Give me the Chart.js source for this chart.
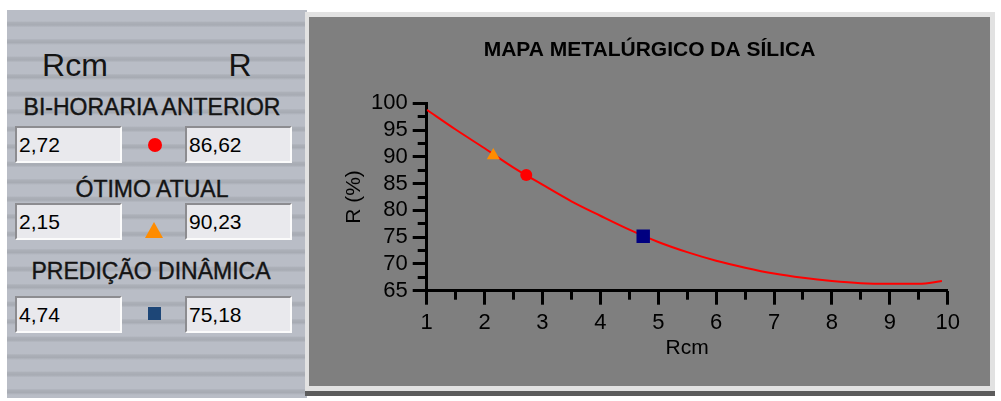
<!DOCTYPE html>
<html>
<head>
<meta charset="utf-8">
<title>Mapa metalúrgico da sílica</title>
<script src="https://cdn.jsdelivr.net/npm/chart.js"></script>
<style>
  html, body { margin: 0; padding: 0; background: #fff; }
  body { width: 1001px; height: 401px; position: relative; overflow: hidden;
         font-family: 'Liberation Sans', Arial, sans-serif; }
  #left { position: absolute; left: 7px; top: 10px; width: 300px; height: 388px;
          background: repeating-linear-gradient(180deg, #b9bdc6 0px, #b9bdc6 11px, #acb0b8 12.5px, #a7abb3 15px, #b9bdc6 17.5px); }
  .lbl { position: absolute; color: #141414; white-space: nowrap; transform: translate(-50%, -50%); line-height: 1; }
  .head { font-size: 32px; }
  .group { font-size: 23px; -webkit-text-stroke: 0.4px #141414; }
  .box { position: absolute; width: 107px; height: 37px; box-sizing: border-box;
         background: #e9e9ed; border-top: 2px solid #8c8c90; border-left: 2px solid #8c8c90;
         border-bottom: 2px solid #fbfbfb; border-right: 2px solid #fbfbfb;
         font-family: 'Liberation Sans', Arial, sans-serif;
         font-size: 21px; line-height: 33px; padding-left: 2px; color: #000; }
  .mk { position: absolute; }
  #frame { position: absolute; left: 305px; top: 12px; width: 690px; height: 379px;
           background: #e2e2e2; box-shadow: 0 5px 0 #5c5c5c; }
  #plot { position: absolute; left: 309px; top: 17px; width: 681px; height: 369px; background: #7f7f7f; }
</style>
</head>
<body>
<div id="left"></div>
<div class="lbl head" style="left:75px; top:65px;">Rcm</div>
<div class="lbl head" style="left:240px; top:65px;">R</div>
<div class="lbl group" id="g0" style="left:152px; top:107px;"></div>
<div class="box" id="c0" style="left:15px; top:126px;"></div>
<div class="box" id="r0" style="left:185px; top:126px;"></div>
<div class="mk" style="left:148px; top:138px; width:14px; height:14px; border-radius:50%; background:#ff0000;"></div>
<div class="lbl group" id="g1" style="left:152px; top:189px;"></div>
<div class="box" id="c1" style="left:15px; top:203px;"></div>
<div class="box" id="r1" style="left:185px; top:203px;"></div>
<div class="mk" style="left:145px; top:222px; width:0; height:0; border-left:9px solid transparent; border-right:9px solid transparent; border-bottom:16px solid #ff8c00;"></div>
<div class="lbl group" id="g2" style="left:151px; top:271px;"></div>
<div class="box" id="c2" style="left:15px; top:296px;"></div>
<div class="box" id="r2" style="left:185px; top:296px;"></div>
<div class="mk" style="left:148px; top:307px; width:13px; height:13px; background:#1d4677;"></div>
<div id="frame"></div>
<div id="plot"><canvas id="myChart"></canvas></div>

<script>
  // curve
  const rcmCurve = [1, 1.5, 2, 2.5, 3, 3.5, 4, 4.5, 5, 5.5, 6, 6.5, 7, 7.5, 8, 8.5, 9, 9.5, 9.9];
  const rCurve = [98.8, 95.1, 91.6, 88.0, 84.8, 81.7, 79.0, 76.4, 74.1, 72.2, 70.6, 69.3, 68.2, 67.4, 66.8, 66.4, 66.3, 66.3, 66.8];
  // the three operating points
  const pointNames = ['BI-HORARIA ANTERIOR', 'ÓTIMO ATUAL', 'PREDIÇÃO DINÂMICA'];
  const pointRcm = [2.72, 2.15, 4.74];
  const pointR = [86.62, 90.23, 75.18];
  const pointColors = ['#ff0000', '#ff8c00', '#000080'];
  const pointStyles = ['circle', 'triangle', 'rect'];
  const pointSizes = [6, 7.5, 9.5];
  const xMin = 1, xMax = 10, yMin = 65, yMax = 100;

  const fmt = v => v.toFixed(2).replace('.', ',');
  pointNames.forEach((n, i) => {
    document.getElementById('g' + i).textContent = n;
    document.getElementById('c' + i).textContent = fmt(pointRcm[i]);
    document.getElementById('r' + i).textContent = fmt(pointR[i]);
  });

  const tickFont = { family: "'Liberation Sans', Arial, sans-serif", size: 22 };
  const axisFont = { family: "'Liberation Sans', Arial, sans-serif", size: 21 };
  Chart.defaults.color = '#000';

  const markerSets = pointNames.map((n, i) => ({
    type: 'scatter',
    label: n,
    data: [{ x: pointRcm[i], y: pointR[i] }],
    pointStyle: pointStyles[i],
    pointRadius: pointSizes[i],
    backgroundColor: pointColors[i],
    borderColor: pointColors[i],
    borderWidth: 0,
    order: 0
  }));

  const ctx = document.getElementById('myChart');
  new Chart(ctx, {
    type: 'scatter',
    data: {
      datasets: [
        ...markerSets,
        {
          label: 'R',
          data: rcmCurve.map((x, i) => ({ x: x, y: rCurve[i] })),
          showLine: true,
          borderColor: '#ff0000',
          borderWidth: 2,
          pointRadius: 0,
          cubicInterpolationMode: 'monotone',
          order: 1
        }
      ]
    },
    options: {
      responsive: true,
      maintainAspectRatio: false,
      animation: false,
      devicePixelRatio: 1,
      layout: { padding: 0 },
      plugins: {
        legend: { display: false },
        tooltip: { enabled: false },
        title: {
          display: true,
          text: 'MAPA METALÚRGICO DA SÍLICA',
          color: '#000',
          font: { family: "'Liberation Sans', Arial, sans-serif", size: 21, weight: 'bold' },
          padding: { top: 21, bottom: 40.1 }
        }
      },
      scales: {
        x: {
          type: 'linear', position: 'bottom', min: xMin, max: xMax, weight: 0,
          ticks: { stepSize: 1, font: tickFont, padding: 5, maxRotation: 0, autoSkip: false },
          grid: { drawOnChartArea: false, tickLength: 14, tickWidth: 3, tickColor: '#000' },
          border: { color: '#000', width: 3 },
          title: { display: true, text: 'Rcm', font: axisFont, padding: { bottom: 25 } },
          afterFit: s => { s.height = 95.3; }
        },
        xMinor: {
          type: 'linear', position: 'bottom', min: xMin, max: xMax, weight: -1,
          ticks: { stepSize: 0.5, display: false, autoSkip: false },
          grid: { drawOnChartArea: false, tickLength: 9, tickWidth: 3, tickColor: '#000' },
          border: { display: false },
          afterFit: s => { s.height = 0; }
        },
        y: {
          type: 'linear', position: 'left', min: yMin, max: yMax, weight: 0,
          ticks: { stepSize: 5, font: tickFont, padding: 5, autoSkip: false },
          grid: { drawOnChartArea: false, tickLength: 14, tickWidth: 3, tickColor: '#000' },
          border: { color: '#000', width: 3 },
          title: { display: true, text: 'R (%)', font: axisFont, padding: { top: 33 } },
          afterFit: s => { s.width = 117.7; }
        },
        yMinor: {
          type: 'linear', position: 'left', min: yMin, max: yMax, weight: -1,
          ticks: { stepSize: 2.5, display: false, autoSkip: false },
          grid: { drawOnChartArea: false, tickLength: 9, tickWidth: 3, tickColor: '#000' },
          border: { display: false },
          afterFit: s => { s.width = 0; }
        },
        yRight: {
          type: 'linear', position: 'right',
          ticks: { display: false },
          grid: { display: false },
          border: { display: false },
          afterFit: s => { s.width = 42.3; }
        }
      }
    }
  });
</script>
</body>
</html>
